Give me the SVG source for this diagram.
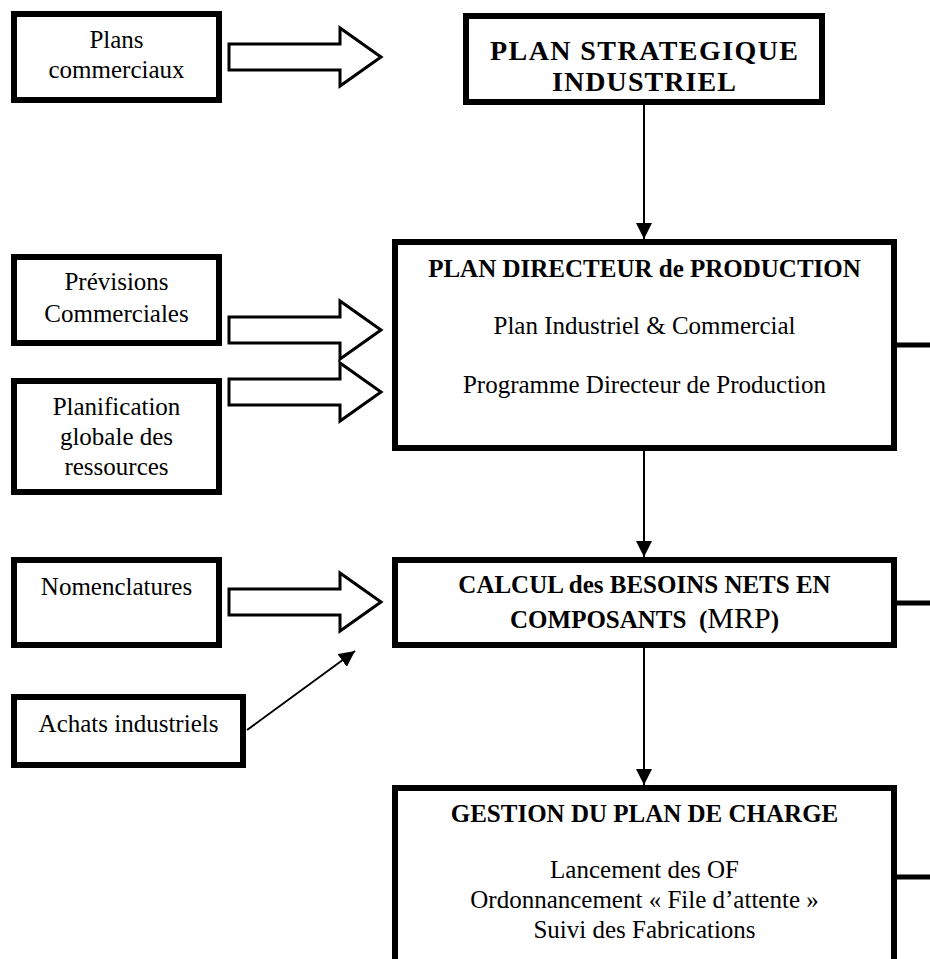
<svg xmlns="http://www.w3.org/2000/svg" width="930" height="959" viewBox="0 0 930 959">
<defs>
<style>
.box{fill:#fff;stroke:#000;stroke-width:6}
.t{font-family:'Liberation Serif','DejaVu Serif','Times New Roman',serif;font-size:25px;fill:#000;text-anchor:middle}
.b{font-weight:bold}
.big{font-size:28px}
.mrp{font-size:30px;font-weight:normal}
.hollow{fill:#fff;stroke:#000;stroke-width:3;stroke-linejoin:miter}
.line{stroke:#000;stroke-width:2;fill:none}
.stub{stroke:#000;stroke-width:5;fill:none}
</style>
<marker id="ahv" viewBox="0 0 16 16" refX="16" refY="8" markerWidth="16" markerHeight="16" markerUnits="userSpaceOnUse" orient="auto">
<path d="M0,0 L16,8 L0,16 z" fill="#000"/>
</marker>
</defs>
<rect width="930" height="959" fill="#fff"/>

<g id="connectors">
<polygon class="hollow" points="229,44 340,44 340,28 381,57 340,86 340,70 229,70"/>
<polygon class="hollow" points="229,317 340,317 340,301 381,330 340,359 340,343 229,343"/>
<polygon class="hollow" points="229,379 340,379 340,363 381,392 340,421 340,405 229,405"/>
<polygon class="hollow" points="229,589 340,589 340,573 381,602 340,631 340,615 229,615"/>
<line class="line" x1="644" y1="105" x2="644" y2="239" marker-end="url(#ahv)"/>
<line class="line" x1="644" y1="451" x2="644" y2="557" marker-end="url(#ahv)"/>
<line class="line" x1="644" y1="648" x2="644" y2="785" marker-end="url(#ahv)"/>
<line class="line" x1="247" y1="730" x2="355" y2="651" stroke-width="2.5" marker-end="url(#ahv)"/>
<line class="stub" x1="897" y1="345" x2="930" y2="345"/>
<line class="stub" x1="897" y1="603" x2="930" y2="603"/>
<line class="stub" x1="897" y1="877" x2="930" y2="877"/>
</g>

<g id="plans-commerciaux">
<rect class="box" x="14" y="14" width="205" height="86"/>
<text class="t" x="116.5" y="48">Plans</text>
<text class="t" x="116.5" y="78">commerciaux</text>
</g>

<g id="plan-strategique">
<rect class="box" x="466" y="16" width="356" height="86"/>
<text class="t b big" x="644" y="60" textLength="308" lengthAdjust="spacing">PLAN STRATEGIQUE</text>
<text class="t b big" x="644" y="91" textLength="184" lengthAdjust="spacing">INDUSTRIEL</text>
</g>

<g id="previsions">
<rect class="box" x="14" y="257" width="205" height="86"/>
<text class="t" x="116.5" y="290">Prévisions</text>
<text class="t" x="116.5" y="322">Commerciales</text>
</g>

<g id="planification">
<rect class="box" x="14" y="381" width="205" height="111"/>
<text class="t" x="116.5" y="415">Planification</text>
<text class="t" x="116.5" y="445">globale des</text>
<text class="t" x="116.5" y="475">ressources</text>
</g>

<g id="plan-directeur">
<rect class="box" x="395" y="242" width="499" height="206"/>
<text class="t b" x="644.5" y="277">PLAN DIRECTEUR de PRODUCTION</text>
<text class="t" x="644.5" y="334">Plan Industriel &amp; Commercial</text>
<text class="t" x="644.5" y="393">Programme Directeur de Production</text>
</g>

<g id="nomenclatures">
<rect class="box" x="14" y="560" width="205" height="85"/>
<text class="t" x="116.5" y="595">Nomenclatures</text>
</g>

<g id="achats">
<rect class="box" x="14" y="697" width="229" height="68"/>
<text class="t" x="128.5" y="732">Achats industriels</text>
</g>

<g id="calcul">
<rect class="box" x="395" y="560" width="499" height="85"/>
<text class="t b" x="644.5" y="593">CALCUL des BESOINS NETS EN</text>
<text class="t b" x="644.5" y="628">COMPOSANTS&#160; (<tspan class="mrp">MRP</tspan>)</text>
</g>

<g id="gestion">
<rect class="box" x="395" y="788" width="499" height="200"/>
<text class="t b" x="644.5" y="822">GESTION DU PLAN DE CHARGE</text>
<text class="t" x="644.5" y="878">Lancement des OF</text>
<text class="t" x="644.5" y="908">Ordonnancement « File d’attente »</text>
<text class="t" x="644.5" y="938">Suivi des Fabrications</text>
</g>
</svg>
